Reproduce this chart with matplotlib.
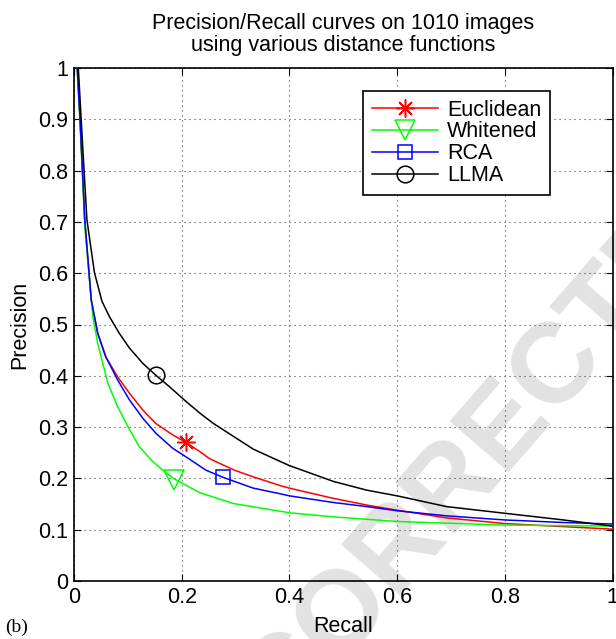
import matplotlib
matplotlib.use("Agg")
import matplotlib.pyplot as plt
from matplotlib.lines import Line2D

plt.rcParams['font.family'] = ['Liberation Sans', 'DejaVu Sans']

title_lines = ["Precision/Recall curves on 1010 images", "using various distance functions"]
series_names = ["Euclidean", "Whitened", "RCA", "LLMA"]

eu_recall = [0.006, 0.011, 0.02, 0.032, 0.044, 0.059, 0.081, 0.103, 0.128, 0.152, 0.183, 0.208,
             0.234, 0.251, 0.271, 0.298, 0.333, 0.383, 0.4, 0.482, 0.544, 0.6, 0.692, 0.8, 0.909, 1.0]
eu_prec = [1.0, 0.905, 0.704, 0.548, 0.483, 0.437, 0.398, 0.366, 0.333, 0.307, 0.285, 0.27,
           0.252, 0.239, 0.229, 0.216, 0.203, 0.186, 0.181, 0.161, 0.148, 0.138, 0.123, 0.112, 0.106, 0.101]

wh_recall = [0.006, 0.011, 0.02, 0.035, 0.044, 0.063, 0.081, 0.100, 0.121, 0.146, 0.165, 0.186,
             0.234, 0.296, 0.383, 0.4, 0.482, 0.6, 0.8, 1.0]
wh_prec = [1.0, 0.9, 0.69, 0.515, 0.463, 0.385, 0.340, 0.301, 0.262, 0.233, 0.216, 0.199,
           0.172, 0.151, 0.136, 0.133, 0.125, 0.116, 0.109, 0.107]

rca_recall = [0.006, 0.011, 0.02, 0.032, 0.044, 0.059, 0.081, 0.103, 0.128, 0.152, 0.183, 0.208,
              0.245, 0.277, 0.333, 0.383, 0.4, 0.482, 0.544, 0.6, 0.692, 0.8, 0.909, 1.0]
rca_prec = [1.0, 0.905, 0.704, 0.548, 0.483, 0.437, 0.392, 0.353, 0.317, 0.288, 0.259, 0.242,
            0.216, 0.202, 0.181, 0.170, 0.166, 0.153, 0.145, 0.137, 0.127, 0.119, 0.114, 0.111]

llma_recall = [0.008, 0.016, 0.024, 0.032, 0.038, 0.052, 0.066, 0.084, 0.103, 0.128, 0.152, 0.177,
               0.208, 0.234, 0.259, 0.333, 0.383, 0.4, 0.482, 0.544, 0.6, 0.692, 0.8, 0.909, 1.0]
llma_prec = [1.0, 0.85, 0.704, 0.645, 0.601, 0.545, 0.515, 0.483, 0.454, 0.424, 0.401, 0.379,
             0.35, 0.327, 0.307, 0.257, 0.233, 0.225, 0.194, 0.177, 0.166, 0.145, 0.132, 0.119, 0.107]

# single marker positions on each curve
marker_recall = [0.208, 0.186, 0.277, 0.152]
marker_prec = [0.27, 0.197, 0.203, 0.401]

colors = ['#ff0000', '#00ff00', '#0000ff', '#000000']
markers = [(8, 2, 0), 'v', 's', 'o']
msizes = [13, 14, 10, 12]

xticks = [0, 0.2, 0.4, 0.6, 0.8, 1]
xticklabels = ['0', '0.2', '0.4', '0.6', '0.8', '1']
yticks = [0, 0.1, 0.2, 0.3, 0.4, 0.5, 0.6, 0.7, 0.8, 0.9, 1]
yticklabels = ['0', '0.1', '0.2', '0.3', '0.4', '0.5', '0.6', '0.7', '0.8', '0.9', '1']

FS = 15.5

fig = plt.figure(figsize=(6.16, 6.39), dpi=100)
fig.patch.set_facecolor('white')

# watermark behind axes
fig.text(443 / 616, 1 - 496 / 639, "UNCORRECTED", fontsize=82, fontweight='bold',
         color='#e2e2e2', rotation=49, rotation_mode='anchor',
         ha='center', va='center', zorder=0)

ax = fig.add_axes([74 / 616, 1 - 581 / 639, 538.5 / 616, 513 / 639])
ax.patch.set_alpha(0)
ax.set_zorder(1)

xs = [eu_recall, wh_recall, rca_recall, llma_recall]
ys = [eu_prec, wh_prec, rca_prec, llma_prec]
for i in range(4):
    ax.plot(xs[i], ys[i], color=colors[i], lw=1.1, zorder=3)
    ax.plot([marker_recall[i]], [marker_prec[i]], linestyle='none', marker=markers[i],
            markersize=msizes[i], markerfacecolor='none', markeredgecolor=colors[i],
            markeredgewidth=1.1, zorder=4)

ax.set_xlim(0, 1)
ax.set_ylim(0, 1)
ax.set_xticks(xticks)
ax.set_xticklabels(xticklabels)
ax.set_yticks(yticks)
ax.set_yticklabels(yticklabels)
ax.tick_params(direction='in', top=True, right=True, length=5, width=0.8,
               labelsize=FS, pad=4)
ax.grid(True, linestyle=(0, (1, 3.5)), color='#444444', linewidth=0.8)
for s in ax.spines.values():
    s.set_linewidth(1.2)
    s.set_color('black')

ax.set_xlabel("Recall", fontsize=FS, labelpad=6)
ax.set_ylabel("Precision", fontsize=FS, labelpad=6)
ax.set_title("\n".join(title_lines), fontsize=FS, pad=12, linespacing=1.1)

handles = [Line2D([0], [0], color=colors[i], lw=1.1, marker=markers[i],
                  markersize=msizes[i], markerfacecolor='none',
                  markeredgecolor=colors[i], markeredgewidth=1.1)
           for i in range(4)]
leg = ax.legend(handles, series_names, loc='upper left',
                bbox_to_anchor=(363 / 616, 1 - 91 / 639), bbox_transform=fig.transFigure,
                fontsize=FS, handlelength=3.1, handletextpad=0.4,
                borderpad=0.4, labelspacing=0.04, borderaxespad=0,
                fancybox=False, framealpha=1, edgecolor='black')
leg.get_frame().set_linewidth(1.2)

fig.text(5 / 616, 1 - 627 / 639, "(b)", fontsize=14, family=['Liberation Serif', 'DejaVu Serif'],
         ha='left', va='center')

fig.savefig("out.png", dpi=100)
